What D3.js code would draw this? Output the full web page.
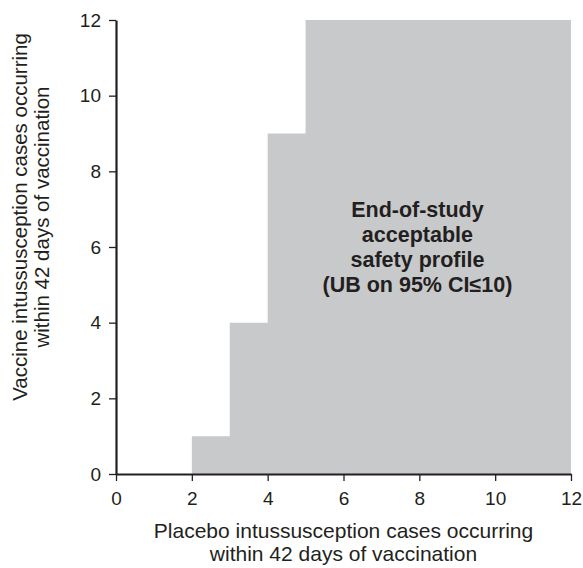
<!DOCTYPE html>
<html>
<head>
<meta charset="utf-8">
<script src="https://cdn.jsdelivr.net/npm/d3@7"></script>
<style>
  body { margin: 0; background: #fff; }
  svg text { font-family: "Liberation Sans", Arial, sans-serif; fill: #231f20; }
</style>
</head>
<body>
<div id="chart"></div>
<script>
'use strict';

// step boundary of the acceptable region (placebo cases -> max vaccine cases)
const placeboCases = [0, 2, 3, 4, 5, 12];
const vaccineCases = [0, 1, 4, 9, 12, 12];
const xTicks = [0, 2, 4, 6, 8, 10, 12];
const yTicks = [0, 2, 4, 6, 8, 10, 12];
const xTitle = ["Placebo intussusception cases occurring", "within 42 days of vaccination"];
const yTitle = ["Vaccine intussusception cases occurring", "within 42 days of vaccination"];
const noteLines = ["End-of-study", "acceptable", "safety profile", "(UB on 95% CI\u226410)"];

const marginTop = 20,
    marginRight = 12,
    marginBottom = 94,
    marginLeft = 116;

const width = 583 - marginLeft - marginRight;
const height = 568 - marginTop - marginBottom;
const ink = "#231f20";

const svg = d3.select("#chart")
    .append("svg")
    .attr("width", 583)
    .attr("height", 568)
    .append("g")
    .attr("transform", "translate(" + marginLeft + "," + marginTop + ")");

const x = d3.scaleLinear().domain([0, 12]).range([0, width]);
const y = d3.scaleLinear().domain([0, 12]).range([height, 0]);

const points = placeboCases.map((p, i) => [p, vaccineCases[i]]);

// shaded region
svg.append("path")
    .datum(points)
    .attr("fill", "#c8c9cb")
    .attr("d", d3.area()
        .x(d => x(d[0]))
        .y0(y(0))
        .y1(d => y(d[1]))
        .curve(d3.curveStepAfter));

// annotation
const note = svg.append("text")
    .attr("text-anchor", "middle")
    .style("font-size", "21.5px")
    .style("font-weight", "bold");
noteLines.forEach((line, i) => {
    note.append("tspan")
        .attr("x", x(7.95))
        .attr("y", y(6.8) + i * 25.2)
        .text(line);
});

// axes
const xAxis = svg.append("g")
    .attr("transform", "translate(0," + height + ")")
    .call(d3.axisBottom(x).tickValues(xTicks).tickSize(7).tickSizeOuter(0).tickPadding(11));

const yAxis = svg.append("g")
    .call(d3.axisLeft(y).tickValues(yTicks).tickSize(7).tickSizeOuter(0).tickPadding(8));

[xAxis, yAxis].forEach(g => {
    g.select(".domain").attr("stroke", ink).attr("stroke-width", 2.2);
    g.selectAll(".tick line").attr("stroke", ink).attr("stroke-width", 1.3);
    g.selectAll(".tick text").style("font-size", "19px").attr("fill", ink);
});

// axis titles
const xt = svg.append("text")
    .attr("text-anchor", "middle")
    .style("font-size", "21px");
xTitle.forEach((line, i) => {
    xt.append("tspan")
        .attr("x", width / 2)
        .attr("y", height + 64 + i * 23)
        .text(line);
});

const yt = svg.append("text")
    .attr("text-anchor", "middle")
    .attr("transform", "rotate(-90)")
    .style("font-size", "20.5px");
yTitle.forEach((line, i) => {
    yt.append("tspan")
        .attr("x", -(height / 2) + 30)
        .attr("y", -89 + i * 22)
        .text(line);
});
</script>
</body>
</html>
